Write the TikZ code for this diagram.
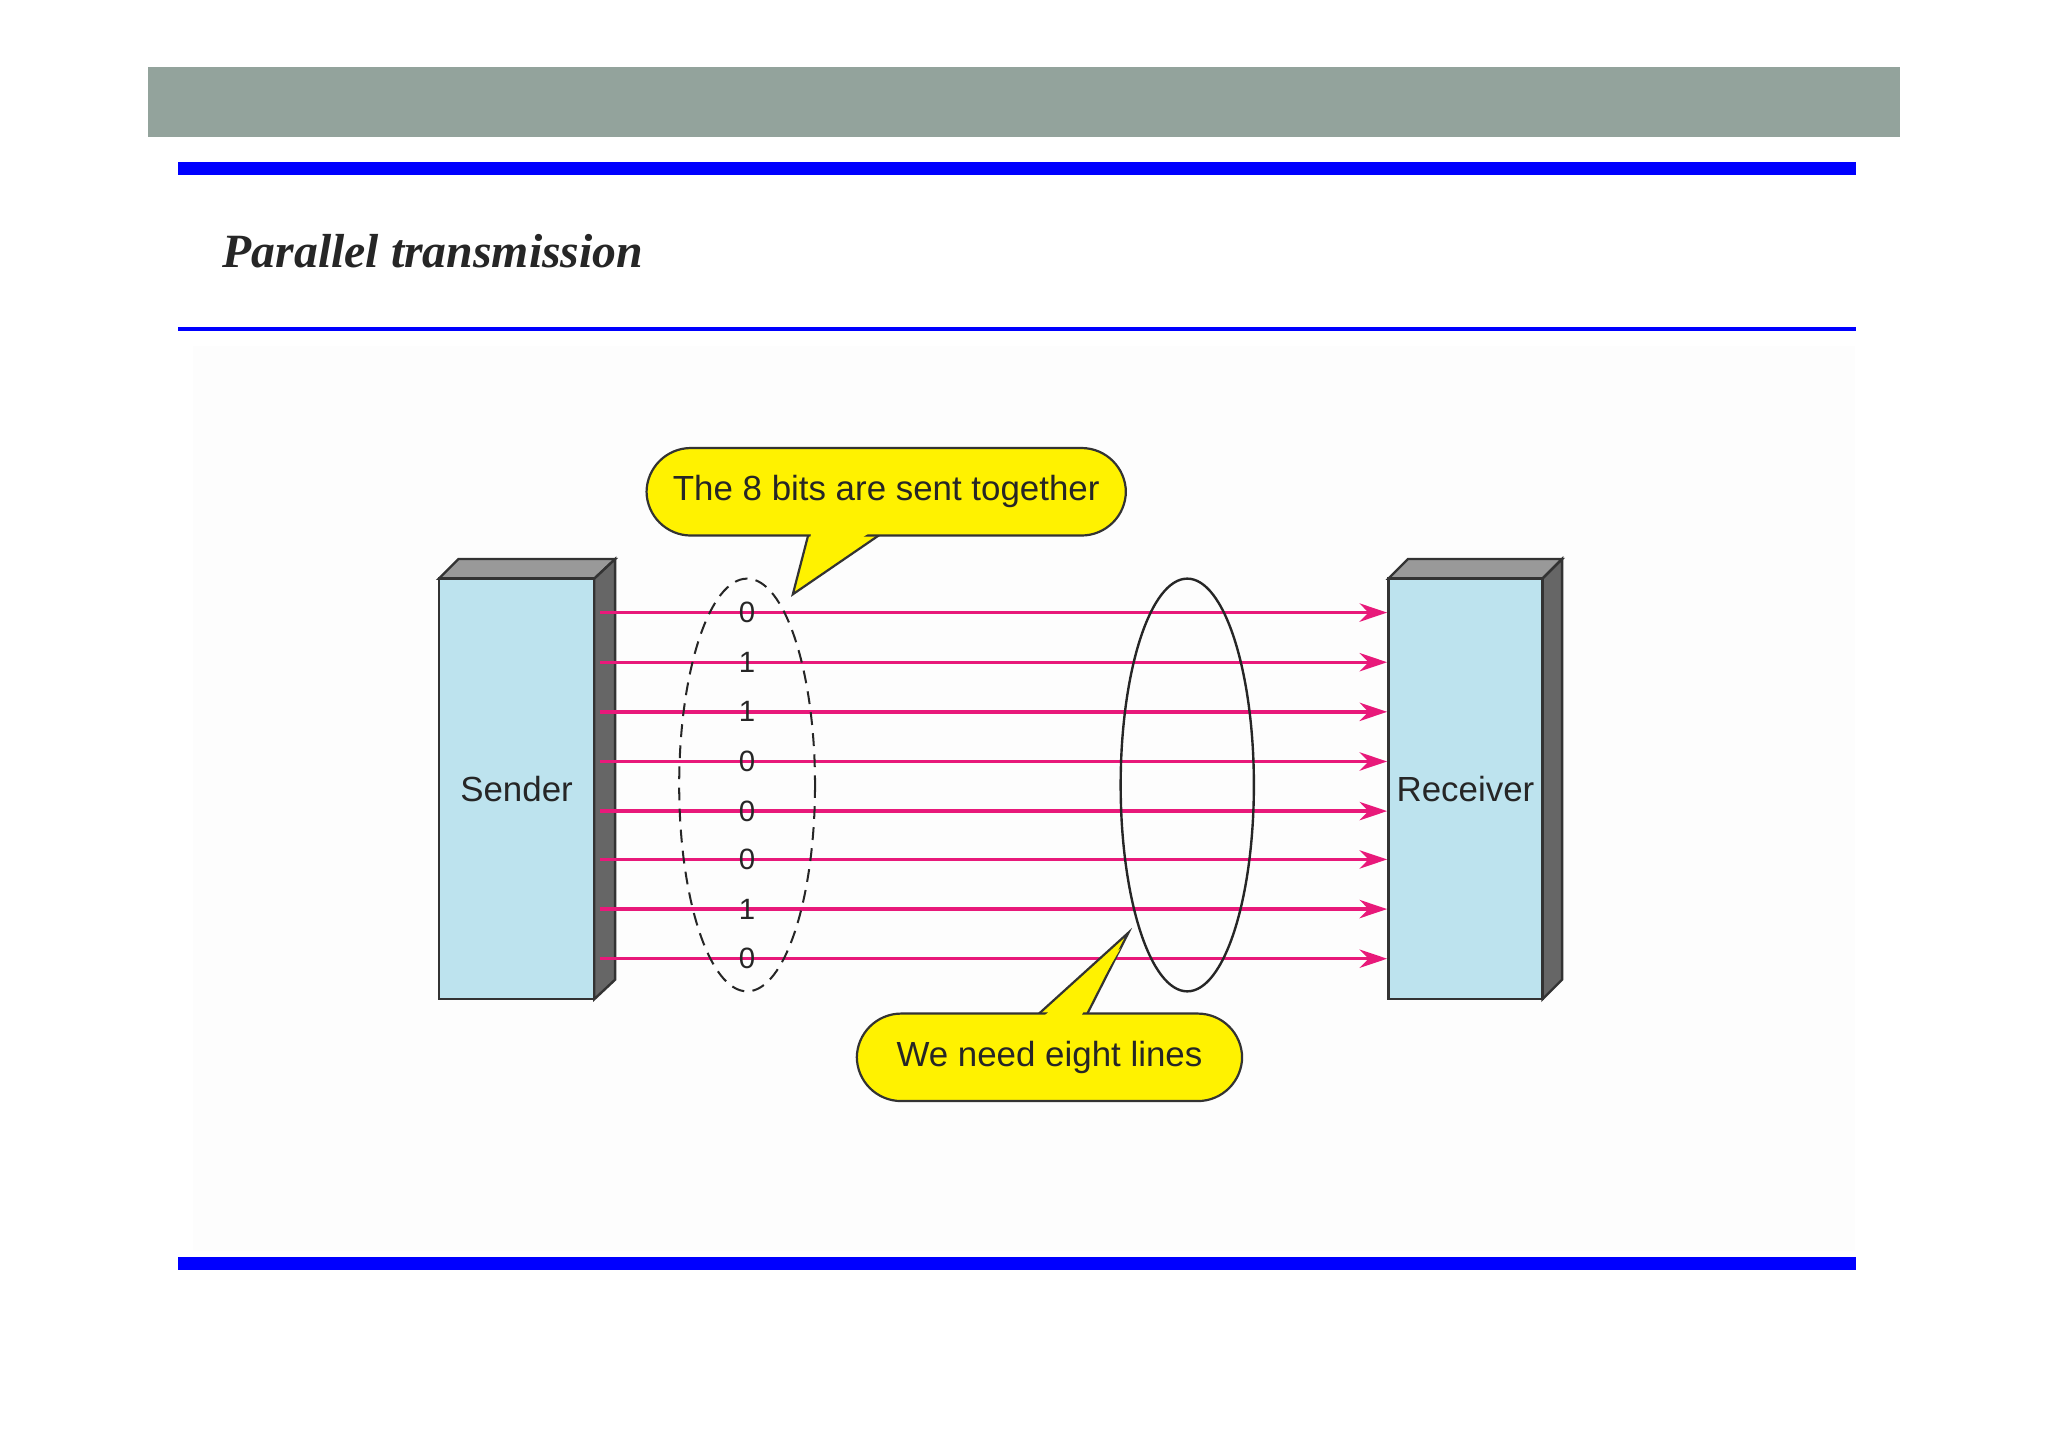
\documentclass[tikz,border=0pt]{standalone}
\usepackage{fontspec}
\setmainfont{Liberation Serif}
\newfontfamily\diag{Liberation Sans}
\usetikzlibrary{arrows.meta}
\definecolor{hdr}{HTML}{93A39C}
\definecolor{boxblue}{HTML}{BDE3EE}
\definecolor{mag}{HTML}{E8197A}
\definecolor{yel}{HTML}{FFF200}
\tikzset{
  face/.style={draw=black!80,line width=2.6pt},
  sig/.style={draw=mag,line width=3.6pt,-{Stealth[length=30pt,width=20pt]}},
  bit/.style={font=\diag\fontsize{32}{32}\selectfont,text=black!85},
  lbl/.style={font=\diag\fontsize{38}{38}\selectfont,text=black!85},
  bubble/.style={fill=yel,draw=black!80,line width=2.4pt}
}
\begin{document}
\begin{tikzpicture}[x=0.05cm,y=-0.05cm]
\useasboundingbox (0,0) rectangle (1568,1109);
\fill[white] (0,0) rectangle (1568,1109);
\fill[hdr] (113,51) rectangle (1455,105);
\fill[blue] (136,124) rectangle (1421,134);
\node[anchor=west,font=\bfseries\itshape\fontsize{52}{52}\selectfont,text=black!85] (title) at (168,192) {Parallel transmission};
\fill[blue] (136,250.5) rectangle (1421,253.5);
\fill[black!0.8] (148,265) rectangle (1420,958);
\fill[blue] (136,962) rectangle (1421,972);
% sender
\filldraw[face,fill=black!40] (336,443) -- (351,428) -- (471,428) -- (455,443) -- cycle;
\filldraw[face,fill=black!60] (455,443) -- (471,428) -- (471,750) -- (455,765) -- cycle;
\node[face,fill=boxblue,minimum width=119*0.05cm,minimum height=322*0.05cm,inner sep=0,lbl] (sender) at (395.5,604) {Sender};
% receiver
\filldraw[face,fill=black!40] (1063,443) -- (1078,428) -- (1196,428) -- (1181,443) -- cycle;
\filldraw[face,fill=black!60] (1181,443) -- (1196,428) -- (1196,750) -- (1181,765) -- cycle;
\node[face,fill=boxblue,minimum width=118*0.05cm,minimum height=322*0.05cm,inner sep=0,lbl] (receiver) at (1122,604) {Receiver};
% lines and bits
\foreach \yy/\b [count=\i] in {469/0,507/1,545/1,583/0,621/0,658/0,696/1,734/0}{
  \coordinate (s\i) at (459,\yy);
  \coordinate (r\i) at (1062,\yy);
  \draw[sig] (s\i) -- (r\i);
  \node[bit,inner sep=1pt] (b\i) at (572,\yy) {\b};
}
\draw[black!85,line width=2.2pt,dash pattern=on 14pt off 9pt] (572,601) ellipse [x radius=52,y radius=158];
\draw[black!85,line width=2.6pt] (909,601) ellipse [x radius=51,y radius=158];
% callout 1
\filldraw[bubble] (620,405) -- (607,455) -- (680,405) -- cycle;
\node[bubble,rounded corners=34*0.05cm,minimum width=367*0.05cm,minimum height=67*0.05cm,lbl] (c1) at (678.5,376.5) {The 8 bits are sent together};
\fill[yel] (623,401) -- (612,444) -- (673,403) -- cycle;
% callout 2
\filldraw[bubble] (790,781) -- (864,714) -- (830,781) -- cycle;
\node[bubble,rounded corners=34*0.05cm,minimum width=295*0.05cm,minimum height=67*0.05cm,lbl] (c2) at (803.5,809.5) {We need eight lines};
\fill[yel] (798,779) -- (858,726) -- (827,779) -- cycle;
\end{tikzpicture}
\end{document}
